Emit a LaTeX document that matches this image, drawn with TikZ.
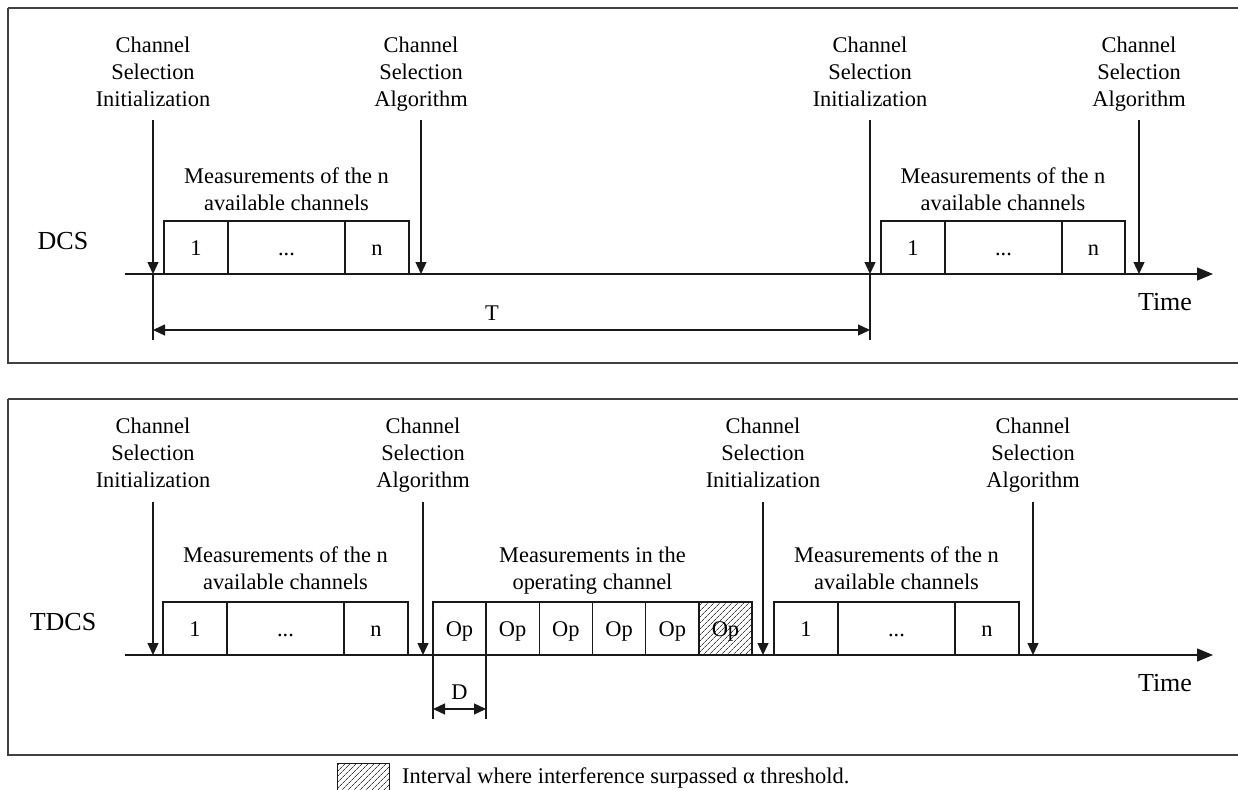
\documentclass[tikz,border=0pt]{standalone}
\usepackage{fontspec}
\setmainfont{Liberation Serif}
\usetikzlibrary{arrows.meta,patterns.meta}
\newcommand\lblfont{\fontsize{22.4}{27}\selectfont}
\newcommand\bigfont{\fontsize{26}{30}\selectfont}
\tikzset{
  panel/.style={draw=black!75, line width=1.7pt},
  seg/.style={draw=black!90, line width=1.3pt},
  ev/.style={draw=black!90, line width=1.3pt, -{Triangle[length=12pt,width=11pt]}},
  axis/.style={draw=black!90, line width=1.3pt, -{Triangle[length=16pt,width=13pt]}},
  dim/.style={draw=black!90, line width=1.3pt, {Triangle[length=12pt,width=11pt]}-{Triangle[length=12pt,width=11pt]}},
  lbl/.style={font=\lblfont, align=center, anchor=north, inner sep=0pt},
  txt/.style={font=\lblfont, anchor=base, inner sep=0pt},
  bigtxt/.style={font=\bigfont, anchor=base, inner sep=0pt},
  cell/.style={draw=black!90, line width=1.3pt, font=\lblfont, inner sep=0pt, outer sep=0pt,
    text height=15pt, text depth=0pt, minimum height=53pt, anchor=south west},
  hatch/.style={pattern={Lines[angle=45,distance=4pt,line width=0.7pt]}, pattern color=black!75},
}
\newcommand\mkcell[6][]{\node[cell,#1, minimum width={#4-#3}] (#2) at (#3,#5) {#6};}
\begin{document}
\begin{tikzpicture}[x=1pt,y=-1pt]
\useasboundingbox (0,0) rectangle (1238,789);
% ---------- panels ----------
\draw[panel] (8,8) -- (1250,8);
\draw[panel] (8,8) -- (8,363) -- (1250,363);
\draw[panel] (8,399) -- (1250,399);
\draw[panel] (8,399) -- (8,755) -- (1250,755);

% ================= DCS =================
\node[bigtxt] (dcs) at (63,249) {DCS};
\coordinate (dax0) at (125,274);
\coordinate (dax1) at (1213,274);
\draw[axis] (dax0) -- (dax1);
\node[bigtxt] (dtime) at (1165,310) {Time};

% labels
\node[lbl] (dI1) at (153,37) {Channel\\Selection\\Initialization};
\node[lbl] (dA1) at (421,37) {Channel\\Selection\\Algorithm};
\node[lbl] (dI2) at (870,37) {Channel\\Selection\\Initialization};
\node[lbl] (dA2) at (1139,37) {Channel\\Selection\\Algorithm};
% event arrows
\coordinate (dI1s) at (153,120); \coordinate (dI1e) at (153,274);
\coordinate (dA1s) at (421,120); \coordinate (dA1e) at (421,274);
\coordinate (dI2s) at (870,120); \coordinate (dI2e) at (870,274);
\coordinate (dA2s) at (1139,120); \coordinate (dA2e) at (1139,274);
\draw[ev] (dI1s) -- (dI1e);
\draw[ev] (dA1s) -- (dA1e);
\draw[ev] (dI2s) -- (dI2e);
\draw[ev] (dA2s) -- (dA2e);
% measurement blocks
\node[lbl] (dM1) at (286.5,168) {Measurements of the n\\available channels};
\mkcell{dc1}{164}{228}{274}{1}
\mkcell{dc2}{228}{345}{274}{...}
\mkcell{dc3}{345}{409}{274}{n}
\node[lbl] (dM2) at (1003,168) {Measurements of the n\\available channels};
\mkcell{dc4}{881}{945}{274}{1}
\mkcell{dc5}{945}{1062}{274}{...}
\mkcell{dc6}{1062}{1125}{274}{n}
% period T
\coordinate (dT0) at (153,340); \coordinate (dT1) at (870,340);
\coordinate (dTa) at (153,330); \coordinate (dTb) at (870,330);
\draw[seg] (dI1e) -- (dT0);
\draw[seg] (dI2e) -- (dT1);
\draw[dim] (dTa) -- (dTb);
\node[txt] (dTl) at (492,320) {T};

% ================= TDCS =================
\node[bigtxt] (tdcs) at (63,630) {TDCS};
\coordinate (tax0) at (125,655);
\coordinate (tax1) at (1213,655);
\draw[axis] (tax0) -- (tax1);
\node[bigtxt] (ttime) at (1165,691) {Time};

\node[lbl] (tI1) at (153,418) {Channel\\Selection\\Initialization};
\node[lbl] (tA1) at (423,418) {Channel\\Selection\\Algorithm};
\node[lbl] (tI2) at (763,418) {Channel\\Selection\\Initialization};
\node[lbl] (tA2) at (1033,418) {Channel\\Selection\\Algorithm};
\coordinate (tI1s) at (153,502); \coordinate (tI1e) at (153,655);
\coordinate (tA1s) at (423,502); \coordinate (tA1e) at (423,655);
\coordinate (tI2s) at (763,502); \coordinate (tI2e) at (763,655);
\coordinate (tA2s) at (1033,502); \coordinate (tA2e) at (1033,655);
\draw[ev] (tI1s) -- (tI1e);
\draw[ev] (tA1s) -- (tA1e);
\draw[ev] (tI2s) -- (tI2e);
\draw[ev] (tA2s) -- (tA2e);

\node[lbl] (tM1) at (285.5,547) {Measurements of the n\\available channels};
\mkcell{tc1}{163}{227}{655}{1}
\mkcell{tc2}{227}{344}{655}{...}
\mkcell{tc3}{344}{408}{655}{n}

\node[lbl] (tMo) at (592.5,547) {Measurements in the\\operating channel};
\mkcell{op1}{433}{486}{655}{Op}
\mkcell{op2}{486}{539.3}{655}{Op}
\mkcell{op3}{539.3}{592.5}{655}{Op}
\mkcell{op4}{592.5}{645.7}{655}{Op}
\mkcell{op5}{645.7}{699}{655}{Op}
\mkcell[hatch]{op6}{699}{752}{655}{Op}

\node[lbl] (tM2) at (896.5,547) {Measurements of the n\\available channels};
\mkcell{tc4}{774}{838}{655}{1}
\mkcell{tc5}{838}{955}{655}{...}
\mkcell{tc6}{955}{1019}{655}{n}

% duration D
\coordinate (tD0) at (433,719); \coordinate (tD1) at (486,719);
\coordinate (tDa) at (433,709); \coordinate (tDb) at (486,709);
\draw[seg] (op1.south west) -- (tD0);
\draw[seg] (op1.south east) -- (tD1);
\draw[dim] (tDa) -- (tDb);
\node[txt] (tDl) at (459.5,699) {D};

% ================= legend =================
\draw[seg, hatch, line width=1pt] (337,763) rectangle (389,800);
\node[txt, anchor=base west] (leg) at (402,783) {Interval where interference surpassed α threshold.};
\end{tikzpicture}
\end{document}
